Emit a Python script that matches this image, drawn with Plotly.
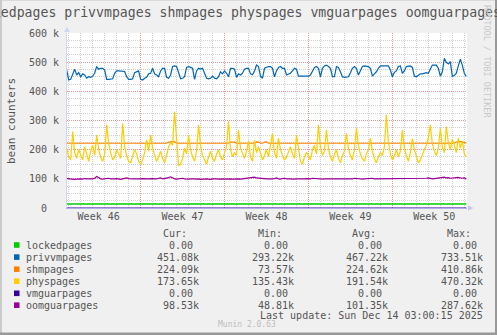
import plotly.graph_objects as go
import pandas as pd

# ---------------- data (values in thousands) ----------------
series_names = ["lockedpages", "privvmpages", "shmpages", "physpages", "vmguarpages", "oomguarpages"]
series_colors = ["#00CC00", "#0066B3", "#FF8000", "#FFCC00", "#330099", "#990099"]

times = pd.date_range("2025-11-10 20:00", periods=201, freq="4h")

lockedpages = [13.5] * 201

privvmpages = [
    473, 439, 441, 462, 476, 456, 464, 450, 460, 456,
    445, 450, 448, 452, 462, 485, 476, 479, 479, 473,
    441, 441, 443, 443, 462, 470, 470, 470, 468, 468,
    450, 441, 441, 443, 464, 467, 470, 441, 439, 445,
    448, 460, 462, 479, 460, 456, 450, 470, 479, 479,
    448, 445, 456, 485, 487, 485, 460, 443, 445, 450,
    482, 485, 482, 479, 441, 470, 479, 476, 479, 462,
    445, 443, 445, 452, 445, 443, 450, 467, 460, 470,
    462, 450, 479, 479, 476, 448, 460, 456, 462, 476,
    479, 479, 460, 457, 470, 490, 485, 452, 445, 479,
    482, 485, 485, 479, 450, 470, 482, 485, 479, 479,
    456, 460, 462, 470, 479, 476, 452, 452, 452, 452,
    452, 452, 456, 470, 482, 485, 479, 450, 479, 487,
    490, 485, 479, 450, 450, 485, 482, 467, 450, 448,
    448, 450, 464, 479, 485, 479, 456, 473, 485, 487,
    487, 485, 479, 452, 460, 467, 479, 487, 487, 487,
    485, 487, 473, 450, 465, 470, 485, 487, 462, 470,
    485, 487, 487, 482, 452, 450, 456, 460, 460, 462,
    464, 462, 479, 490, 490, 490, 479, 452, 467, 513,
    499, 494, 502, 452, 454, 462, 487, 510, 490, 462,
    451,
]

shmpages = [
    222, 222, 222, 222, 222, 222, 222, 222, 222, 222,
    222, 222, 222, 222, 222, 222, 222, 222, 222, 222,
    222, 222, 222, 222, 222, 222, 222, 222, 222, 222,
    222, 222, 222, 222, 222, 222, 222, 222, 222, 222,
    222, 222, 222, 222, 222, 222, 222, 222, 222, 222,
    222, 226, 228, 228, 227, 222, 222, 222, 222, 222,
    222, 222, 222, 222, 222, 222, 222, 222, 222, 222,
    222, 222, 222, 222, 222, 222, 222, 222, 222, 222,
    222, 222, 226, 227, 226, 222, 222, 222, 222, 222,
    222, 222, 222, 222, 222, 227, 226, 222, 222, 226,
    227, 222, 222, 222, 222, 222, 222, 222, 222, 222,
    222, 222, 222, 222, 222, 222, 222, 222, 222, 222,
    222, 222, 222, 222, 222, 222, 222, 222, 222, 222,
    222, 222, 222, 222, 222, 222, 222, 222, 222, 222,
    222, 222, 222, 222, 222, 222, 222, 222, 222, 222,
    222, 222, 222, 222, 222, 222, 222, 222, 222, 222,
    222, 222, 222, 222, 222, 222, 222, 222, 222, 222,
    222, 222, 222, 222, 222, 222, 222, 222, 222, 222,
    222, 222, 222, 222, 222, 222, 222, 222, 222, 222,
    222, 222, 222, 222, 222, 226, 228, 228, 227, 223,
    224,
]

physpages = [
    205, 175, 165, 262, 190, 170, 200, 180, 165, 210,
    185, 160, 195, 215, 180, 250, 200, 175, 160, 185,
    285, 220, 190, 165, 175, 200, 185, 170, 290, 210,
    180, 160, 155, 175, 200, 185, 160, 150, 165, 190,
    233, 195, 250, 205, 180, 160, 175, 195, 170, 155,
    180, 210, 225, 215, 330, 220, 145, 150, 170, 205,
    185, 250, 200, 175, 160, 195, 285, 215, 180, 165,
    150, 175, 195, 170, 160, 185, 200, 175, 165, 190,
    210, 296, 200, 175, 190, 180, 267, 205, 185, 170,
    195, 230, 175, 160, 233, 190, 210, 185, 165, 180,
    200, 175, 220, 256, 190, 170, 240, 200, 180, 165,
    175, 195, 210, 185, 170, 250, 200, 160, 150, 175,
    190, 180, 165, 200, 215, 185, 285, 210, 180, 195,
    267, 205, 175, 160, 185, 200, 170, 155, 180, 195,
    256, 205, 180, 165, 200, 273, 215, 185, 170, 160,
    185, 200, 240, 195, 170, 155, 175, 190, 180, 210,
    320, 225, 185, 165, 180, 200, 175, 195, 267, 205,
    180, 160, 190, 238, 200, 175, 155, 165, 185, 200,
    215, 240, 285, 220, 195, 180, 205, 273, 210, 190,
    279, 225, 200, 235, 215, 190, 240, 205, 230, 185,
    175,
]

vmguarpages = [0] * 201

oomguarpages = [
    101, 100, 99, 100, 98, 99, 100, 100, 99, 101,
    100, 99, 100, 100, 102, 108, 103, 100, 99, 100,
    101, 102, 100, 99, 100, 101, 99, 98, 100, 102,
    103, 101, 100, 99, 100, 100, 99, 100, 101, 100,
    99, 100, 101, 100, 99, 100, 102, 103, 100, 101,
    101, 104, 107, 102, 100, 99, 100, 101, 102, 100,
    99, 99, 100, 101, 100, 99, 100, 98, 99, 100,
    100, 99, 98, 100, 101, 100, 99, 100, 100, 99,
    100, 101, 100, 99, 100, 101, 100, 99, 100, 100,
    101, 103, 105, 104, 106, 103, 102, 101, 100, 101,
    100, 100, 99, 100, 101, 103, 100, 99, 101, 102,
    100, 101, 100, 99, 100, 101, 100, 100, 99, 100,
    101, 100, 100, 102, 101, 100, 101, 100, 99, 100,
    100, 101, 100, 101, 100, 100, 99, 100, 101, 100,
    100, 100, 101, 100, 102, 101, 100, 100, 99, 100,
    101, 100, 101, 102, 100, 100, 101, 100, 100, 101,
    100, 101, 102, 101, 100, 100, 101, 100, 100, 101,
    100, 101, 100, 100, 101, 100, 101, 100, 101, 102,
    102, 103, 101, 100, 101, 102, 103, 106, 105, 106,
    103, 104, 102, 103, 102, 104, 105, 103, 102, 104,
    98.5,
]

cur_vals = ["0.00", "451.08k", "224.09k", "173.65k", "0.00", "98.53k"]
min_vals = ["0.00", "293.22k", "73.57k", "135.43k", "0.00", "48.81k"]
avg_vals = ["0.00", "467.22k", "224.62k", "191.54k", "0.00", "101.35k"]
max_vals = ["0.00", "733.51k", "410.86k", "470.32k", "0.00", "287.62k"]

y_tickvals = [0, 100000, 200000, 300000, 400000, 500000, 600000]
y_ticktext = ["0\u00a0\u00a0", "100 k", "200 k", "300 k", "400 k", "500 k", "600 k"]
week_tickvals = ["2025-11-13 12:00", "2025-11-20 12:00", "2025-11-27 12:00",
                 "2025-12-04 12:00", "2025-12-11 12:00"]
week_ticktext = ["Week 46", "Week 47", "Week 48", "Week 49", "Week 50"]
monday_vals = ["2025-11-17", "2025-11-24", "2025-12-01", "2025-12-08"]
x_range = ["2025-11-10 20:36", "2025-12-14 05:24"]

title_text = "lockedpages privvmpages shmpages physpages vmguarpages oomguarpages"
last_update = "Last update: Sun Dec 14 03:00:15 2025"

# ---------------- layout helpers ----------------
W, H = 497, 335
L, R, T, B = 67, 467, 33, 208
MONO = "DejaVu Sans Mono"
TXT = "#555555"


def px(x):
    return (x - L) / (R - L)


def py(y):
    return (B - y) / (B - T)


all_series = [lockedpages, privvmpages, shmpages, physpages, vmguarpages, oomguarpages]

fig = go.Figure()
for name, col, vals in zip(series_names, series_colors, all_series):
    fig.add_trace(go.Scatter(
        x=times, y=[v * 1000 for v in vals], mode="lines", name=name,
        line=dict(color=col, width=1.6 if name == "lockedpages" else 1.2),
        xaxis="x2" if name == "vmguarpages" else "x",
        hoverinfo="skip", showlegend=False,
    ))

grid_minor = "rgba(150,150,150,0.45)"
grid_major = "rgba(240,110,110,0.6)"

fig.update_layout(
    width=W, height=H, autosize=False,
    margin=dict(l=L, r=W - R, t=T, b=H - B, pad=0),
    paper_bgcolor="#F0F0F0", plot_bgcolor="#FFFFFF",
    font=dict(family=MONO, size=10, color=TXT),
    xaxis=dict(
        type="date", range=x_range, tickmode="array", tickvals=monday_vals,
        showticklabels=False, ticks="", showgrid=True, gridcolor=grid_major,
        griddash="1px,1px", gridwidth=1, zeroline=False,
        showline=True, linecolor="#B4AEE8", linewidth=1,
        minor=dict(tickmode="linear", tick0="2025-11-10", dtick=86400000,
                   showgrid=True, gridcolor=grid_minor, griddash="1px,1px", gridwidth=1),
    ),
    xaxis2=dict(
        type="date", overlaying="x", matches="x", anchor="y", side="bottom",
        tickmode="array", tickvals=week_tickvals, ticktext=week_ticktext,
        showgrid=False, zeroline=False, showline=False, ticks="",
        tickfont=dict(family=MONO, size=10, color=TXT), ticklabelstandoff=1,
    ),
    yaxis=dict(
        range=[0, 600000], tickmode="array", tickvals=y_tickvals, ticktext=y_ticktext,
        showgrid=True, gridcolor=grid_major, griddash="1px,1px", gridwidth=1,
        zeroline=False, showline=True, linecolor="#CFD6F8", linewidth=1,
        ticks="", tickfont=dict(family=MONO, size=10, color=TXT), ticklabelstandoff=5,
        minor=dict(tickmode="linear", tick0=0, dtick=25000, showgrid=True,
                   gridcolor=grid_minor, griddash="1px,1px", gridwidth=1),
    ),
)

ann = []
# title
ann.append(dict(x=px(234.5), y=py(13), xref="paper", yref="paper", text=title_text,
                showarrow=False, xanchor="center", yanchor="middle",
                font=dict(family=MONO, size=13.2, color=TXT)))
# y axis label
ann.append(dict(x=px(11), y=py(121), xref="paper", yref="paper", text="bean counters",
                showarrow=False, textangle=-90, xanchor="center", yanchor="middle",
                font=dict(family=MONO, size=11, color=TXT)))
# rrdtool watermark
ann.append(dict(x=px(487), y=py(61), xref="paper", yref="paper", text="RRDTOOL / TOBI OETIKER",
                showarrow=False, textangle=90, xanchor="center", yanchor="middle",
                font=dict(family=MONO, size=8.5, color="#C8C8C8")))
# legend headers
for hx, ht in zip([163, 258, 352, 447], ["Cur:", "Min:", "Avg:", "Max:"]):
    ann.append(dict(x=px(hx), y=py(233.5), xref="paper", yref="paper", text=ht,
                    showarrow=False, xanchor="left", yanchor="middle",
                    borderpad=0, borderwidth=0, font=dict(family=MONO, size=10, color=TXT)))

row_y = [245, 257.1, 269.2, 281.2, 293.3, 305.2]
col_right = [199, 293.7, 388.4, 483.1]
shapes = []
for k, name in enumerate(series_names):
    yy = row_y[k]
    shapes.append(dict(type="rect", xref="paper", yref="paper",
                       x0=px(14), x1=px(19.5), y0=py(yy - 2.8), y1=py(yy + 2.8),
                       fillcolor=series_colors[k], line=dict(width=0)))
    ann.append(dict(x=px(26.3), y=py(yy), xref="paper", yref="paper", text=name,
                    showarrow=False, xanchor="left", yanchor="middle",
                    borderpad=0, borderwidth=0, font=dict(family=MONO, size=10, color=TXT)))
    for cx, vals in zip(col_right, [cur_vals, min_vals, avg_vals, max_vals]):
        v = vals[k]
        xr = cx if v.endswith("k") else cx - 6.02
        ann.append(dict(x=px(xr), y=py(yy), xref="paper", yref="paper", text=v,
                        showarrow=False, xanchor="right", yanchor="middle",
                        borderpad=0, borderwidth=0, font=dict(family=MONO, size=10, color=TXT)))

ann.append(dict(x=px(482.5), y=py(315), xref="paper", yref="paper", text=last_update,
                showarrow=False, xanchor="right", yanchor="middle",
                borderpad=0, borderwidth=0, font=dict(family=MONO, size=10, color=TXT)))
ann.append(dict(x=px(247), y=py(324.8), xref="paper", yref="paper", text="Munin 2.0.63",
                showarrow=False, xanchor="center", yanchor="middle",
                borderpad=0, borderwidth=0, font=dict(family=MONO, size=8, color="#BEBEBE")))

# axis arrows
arrow_col = "#CFD6F8"
shapes.append(dict(type="path", xref="paper", yref="paper",
                   path=f"M {px(67)},{py(26.5)} L {px(64.2)},{py(32)} L {px(69.8)},{py(32)} Z",
                   fillcolor=arrow_col, line=dict(width=0)))
shapes.append(dict(type="path", xref="paper", yref="paper",
                   path=f"M {px(473.5)},{py(208)} L {px(468)},{py(205.2)} L {px(468)},{py(210.8)} Z",
                   fillcolor="#C9C4F0", line=dict(width=0)))

# frame shading
shapes.append(dict(type="rect", xref="paper", yref="paper", x0=px(0), x1=px(W), y0=py(0), y1=py(1),
                   fillcolor="#DADADA", line=dict(width=0)))
shapes.append(dict(type="rect", xref="paper", yref="paper", x0=px(0), x1=px(2), y0=py(0), y1=py(H),
                   fillcolor="#CBCBCB", line=dict(width=0)))
shapes.append(dict(type="rect", xref="paper", yref="paper", x0=px(W - 2), x1=px(W), y0=py(0), y1=py(H),
                   fillcolor="#999999", line=dict(width=0)))
shapes.append(dict(type="rect", xref="paper", yref="paper", x0=px(0), x1=px(W), y0=py(H - 2.5), y1=py(H),
                   fillcolor="#999999", line=dict(width=0)))

fig.update_layout(annotations=ann, shapes=shapes)
fig.write_html("out.html")
